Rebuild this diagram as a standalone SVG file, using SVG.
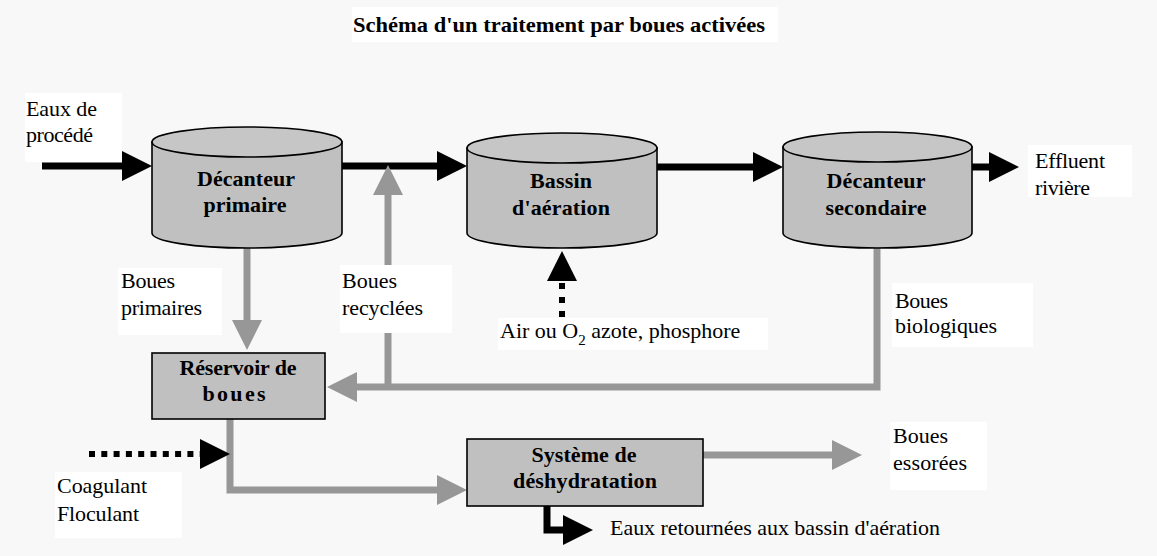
<svg xmlns="http://www.w3.org/2000/svg" width="1157" height="556" viewBox="0 0 1157 556">
  <defs>
    <style>
      .bg { fill: #f8f8f8; }
      .lbl { fill: #ffffff; }
      .tank { fill: #c0c0c0; stroke: #000; stroke-width: 1.6; }
      .tank-top { fill: #c6c6c6; stroke: #000; stroke-width: 1.6; }
      .box { fill: #c0c0c0; stroke: #000; stroke-width: 1.6; }
      .bold { font-family: "Liberation Serif", "Times New Roman", serif; font-weight: bold; font-size: 22px; fill: #000; text-anchor: middle; }
      .txt { font-family: "Liberation Serif", "Times New Roman", serif; font-size: 22px; fill: #000; }
      .flow-b { fill: none; stroke: #000; stroke-width: 7; }
      .flow-g { fill: none; stroke: #979797; stroke-width: 7; }
      .dots { fill: none; stroke: #000; stroke-width: 6; }
    </style>
    <marker id="head-b" viewBox="0 0 30 30" markerWidth="30" markerHeight="30" refX="1" refY="15" orient="auto" markerUnits="userSpaceOnUse">
      <path d="M0,0 L30,15 L0,30 Z" fill="#000"/>
    </marker>
    <marker id="head-g" viewBox="0 0 30 30" markerWidth="30" markerHeight="30" refX="1" refY="15" orient="auto" markerUnits="userSpaceOnUse">
      <path d="M0,0 L30,15 L0,30 Z" fill="#979797"/>
    </marker>
  </defs>

  <rect class="bg" x="0" y="0" width="1157" height="556"/>

  <!-- title -->
  <g id="title">
    <rect class="lbl" x="352" y="7" width="426" height="35"/>
    <text class="bold" x="559" y="32" font-size="23" textLength="412" lengthAdjust="spacingAndGlyphs">Schéma d'un traitement par boues activées</text>
  </g>

  <!-- flows -->
  <g id="connectors">
    <line class="flow-b" x1="42" y1="166" x2="123" y2="166" marker-end="url(#head-b)"/>
    <line class="flow-b" x1="342" y1="166" x2="438" y2="166" marker-end="url(#head-b)"/>
    <line class="flow-b" x1="657" y1="167" x2="754" y2="167" marker-end="url(#head-b)"/>
    <line class="flow-b" x1="972" y1="167" x2="990" y2="167" marker-end="url(#head-b)"/>
    <line class="flow-g" x1="247" y1="248" x2="247" y2="321" marker-end="url(#head-g)"/>
    <line class="flow-g" x1="388" y1="387" x2="388" y2="194" marker-end="url(#head-g)"/>
    <path class="flow-g" stroke-width="6" d="M877,248 V387 H356" marker-end="url(#head-g)"/>
    <path class="flow-g" d="M230,419 V490 H438" marker-end="url(#head-g)"/>
    <line class="flow-g" x1="703" y1="455" x2="833" y2="455" marker-end="url(#head-g)"/>
    <path class="flow-b" d="M547,506 V530 H564" marker-end="url(#head-b)"/>
    <line class="dots" x1="89" y1="454" x2="201" y2="454" stroke-dasharray="6 6.3" marker-end="url(#head-b)"/>
    <line class="dots" x1="562" y1="317" x2="562" y2="280" stroke-dasharray="6 8" marker-end="url(#head-b)"/>
  </g>

  <!-- tanks -->
  <g id="decanteur-primaire">
    <path class="tank" d="M152,142 V233 A95,15 0 0 0 342,233 V142 Z"/>
    <ellipse class="tank-top" cx="247" cy="142" rx="95" ry="15"/>
    <text class="bold" x="246" y="186" textLength="98">Décanteur</text>
    <text class="bold" x="245" y="212" textLength="83">primaire</text>
  </g>
  <g id="bassin-aeration">
    <path class="tank" d="M467,148 V233 A95,15 0 0 0 657,233 V148 Z"/>
    <ellipse class="tank-top" cx="562" cy="148" rx="95" ry="15"/>
    <text class="bold" x="561" y="188" textLength="62">Bassin</text>
    <text class="bold" x="561" y="215" textLength="98">d'aération</text>
  </g>
  <g id="decanteur-secondaire">
    <path class="tank" d="M783,147 V233 A94.5,15 0 0 0 972,233 V147 Z"/>
    <ellipse class="tank-top" cx="877.5" cy="147" rx="94.5" ry="15"/>
    <text class="bold" x="876" y="188" textLength="99">Décanteur</text>
    <text class="bold" x="876" y="215" textLength="101">secondaire</text>
  </g>

  <!-- boxes -->
  <g id="reservoir-boues">
    <rect class="box" x="152" y="353" width="173" height="66"/>
    <text class="bold" x="238" y="375" textLength="117">Réservoir de</text>
    <text class="bold" x="234" y="401" textLength="63">boues</text>
  </g>
  <g id="deshydratation">
    <rect class="box" x="467" y="439" width="236" height="67"/>
    <text class="bold" x="584" y="462" textLength="105">Système de</text>
    <text class="bold" x="585" y="488" textLength="144">déshydratation</text>
  </g>

  <!-- stream labels -->
  <g id="label-eaux-procede">
    <rect class="lbl" x="25" y="93" width="97" height="69"/>
    <text class="txt" x="26" y="116" textLength="71">Eaux de</text>
    <text class="txt" x="26" y="142" textLength="67">procédé</text>
  </g>
  <g id="label-effluent">
    <rect class="lbl" x="1028" y="145" width="104" height="52"/>
    <text class="txt" x="1035" y="168" textLength="70">Effluent</text>
    <text class="txt" x="1035" y="195" textLength="55">rivière</text>
  </g>
  <g id="label-boues-primaires">
    <rect class="lbl" x="118" y="268" width="104" height="67"/>
    <text class="txt" x="121" y="288" textLength="54">Boues</text>
    <text class="txt" x="121" y="315" textLength="81">primaires</text>
  </g>
  <g id="label-boues-recyclees">
    <rect class="lbl" x="340" y="265" width="112" height="68"/>
    <text class="txt" x="342" y="288" textLength="55">Boues</text>
    <text class="txt" x="342" y="315" textLength="81">recyclées</text>
  </g>
  <g id="label-air">
    <rect class="lbl" x="498" y="318" width="270" height="32"/>
    <text class="txt" x="500" y="338">Air ou O<tspan font-size="15" dy="7">2</tspan><tspan dy="-7"> azote, phosphore</tspan></text>
  </g>
  <g id="label-boues-biologiques">
    <rect class="lbl" x="892" y="283" width="141" height="64"/>
    <text class="txt" x="895" y="308" textLength="53">Boues</text>
    <text class="txt" x="895" y="333" textLength="102">biologiques</text>
  </g>
  <g id="label-boues-essorees">
    <rect class="lbl" x="890" y="422" width="97" height="68"/>
    <text class="txt" x="893" y="443" textLength="55">Boues</text>
    <text class="txt" x="893" y="470" textLength="74">essorées</text>
  </g>
  <g id="label-coagulant">
    <rect class="lbl" x="55" y="472" width="127" height="66"/>
    <text class="txt" x="57" y="493" textLength="90">Coagulant</text>
    <text class="txt" x="57" y="521" textLength="82">Floculant</text>
  </g>
  <g id="label-eaux-retournees">
    <text class="txt" x="610" y="535" textLength="330">Eaux retournées aux bassin d'aération</text>
  </g>
</svg>
